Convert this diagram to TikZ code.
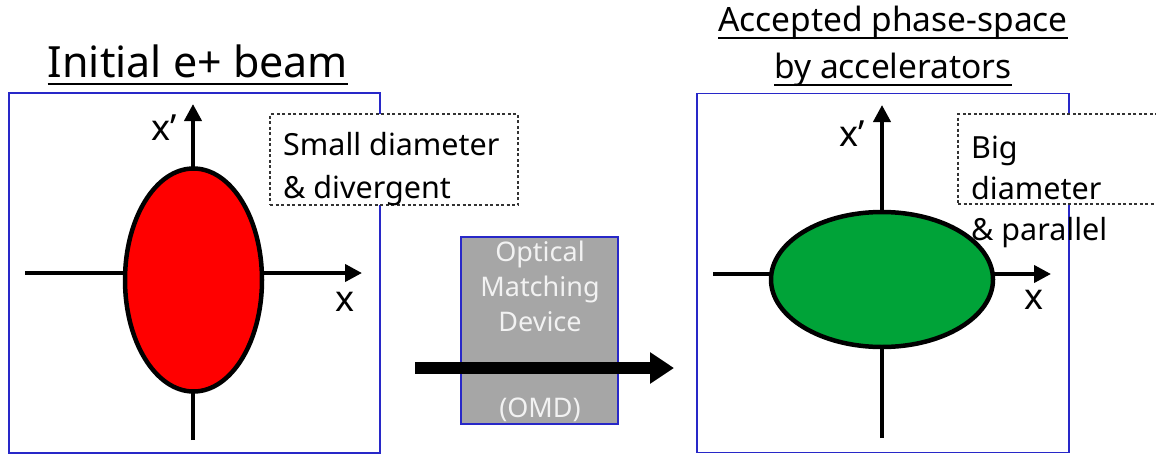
\documentclass[tikz,border=0pt]{standalone}
\usepackage{fontspec}
\setmainfont{Noto Sans}
\usetikzlibrary{arrows.meta,shapes.geometric}
\definecolor{boxblue}{RGB}{40,40,200}
\definecolor{beamred}{RGB}{255,0,0}
\definecolor{beamgreen}{RGB}{0,163,56}
\definecolor{omdgray}{RGB}{166,166,166}
\definecolor{omdtext}{RGB}{242,242,242}
\tikzset{
  panel/.style={draw=boxblue, line width=1.5pt, fill=white, inner sep=0pt},
  note/.style={draw=black!80, line width=1.3pt, dash pattern=on 3pt off 2.5pt, fill=white, inner sep=0pt},
  axis/.style={line width=4pt, -{Triangle[length=17pt,width=17pt]}},
  beam/.style={ellipse, draw=black, line width=4.5pt, inner sep=0pt},
  title/.style={font=\fontsize{43}{50}\selectfont, inner sep=0pt, anchor=base},
  subtitle/.style={font=\fontsize{33.5}{40}\selectfont, inner sep=0pt, anchor=base},
  notetext/.style={font=\fontsize{30.5}{36}\selectfont, inner sep=0pt, anchor=base west},
  axlabel/.style={font=\fontsize{36}{40}\selectfont, inner sep=0pt},
  omdbox/.style={draw=boxblue, line width=1.5pt, fill=omdgray, inner sep=0pt},
  omdlabel/.style={font=\fontsize{27}{31}\selectfont, text=omdtext, inner sep=0pt},
  bigarrow/.style={line width=11.5pt, -{Triangle[length=24pt,width=30pt]}},
  uline/.style={line width=2pt}
}
\begin{document}
\begin{tikzpicture}[x=1pt,y=-1pt]
\useasboundingbox (0,0) rectangle (1156,455);

% ---------- left panel ----------
\node[panel, minimum width=371pt, minimum height=360pt] (lpanel) at (194.5,273) {};
\node[note, minimum width=248pt, minimum height=91pt] (lnote) at (394,159.5) {};
\node[notetext] (ln1) at (283,155) {Small diameter};
\node[notetext] (ln2) at (283,198) {\& divergent};

\coordinate (lxa) at (25,273);
\coordinate (lxb) at (362,273);
\coordinate (lya) at (193,440);
\coordinate (lyb) at (193,104);
\draw[axis] (lxa) -- (lxb);
\draw[axis] (lya) -- (lyb);
\node[beam, fill=beamred, minimum width=137pt, minimum height=223pt] (e1) at (193.5,280) {};
\node[axlabel] (lxp) at (164,128) {x’};
\node[axlabel] (lx) at (345,302) {x};

\node[title] (t1) at (198,77) {Initial e+ beam};
\draw[uline] ([yshift=-7pt]t1.base west) -- ([yshift=-7pt]t1.base east);

% ---------- OMD ----------
\node[omdbox, minimum width=157pt, minimum height=187pt] (omd) at (539.5,330.5) {};
\node[omdlabel] (o1) at (540,254) {Optical};
\node[omdlabel] (o2) at (540,289) {Matching};
\node[omdlabel] (o3) at (540,322) {Device};
\node[omdlabel] (o4) at (540,410) {(OMD)};
\coordinate (aa) at (415,368);
\coordinate (ab) at (674,368);
\draw[bigarrow] (aa) -- (ab);

% ---------- right panel ----------
\node[panel, minimum width=372pt, minimum height=359pt] (rpanel) at (883,273) {};
\node[note, minimum width=220pt, minimum height=90pt] (rnote) at (1068,159) {};

\coordinate (rxa) at (713,274);
\coordinate (rxb) at (1051,274);
\coordinate (rya) at (882,438);
\coordinate (ryb) at (882,105);
\draw[axis] (rxa) -- (rxb);
\draw[axis] (rya) -- (ryb);
\node[beam, fill=beamgreen, minimum width=222pt, minimum height=135pt] (e2) at (882,279.5) {};
\node[axlabel] (rxp) at (852,134) {x’};
\node[axlabel] (rx) at (1034,300) {x};

\node[notetext] (rn1) at (971,158) {Big};
\node[notetext] (rn2) at (971,199) {diameter};
\node[notetext] (rn3) at (971,240) {\& parallel};

\node[subtitle] (t2) at (893,31) {Accepted phase-space};
\draw[uline] ([yshift=-7pt]t2.base west) -- ([yshift=-7pt]t2.base east);
\node[subtitle] (t3) at (893,78) {by accelerators};
\draw[uline] ([yshift=-7pt]t3.base west) -- ([yshift=-7pt]t3.base east);
\end{tikzpicture}
\end{document}
